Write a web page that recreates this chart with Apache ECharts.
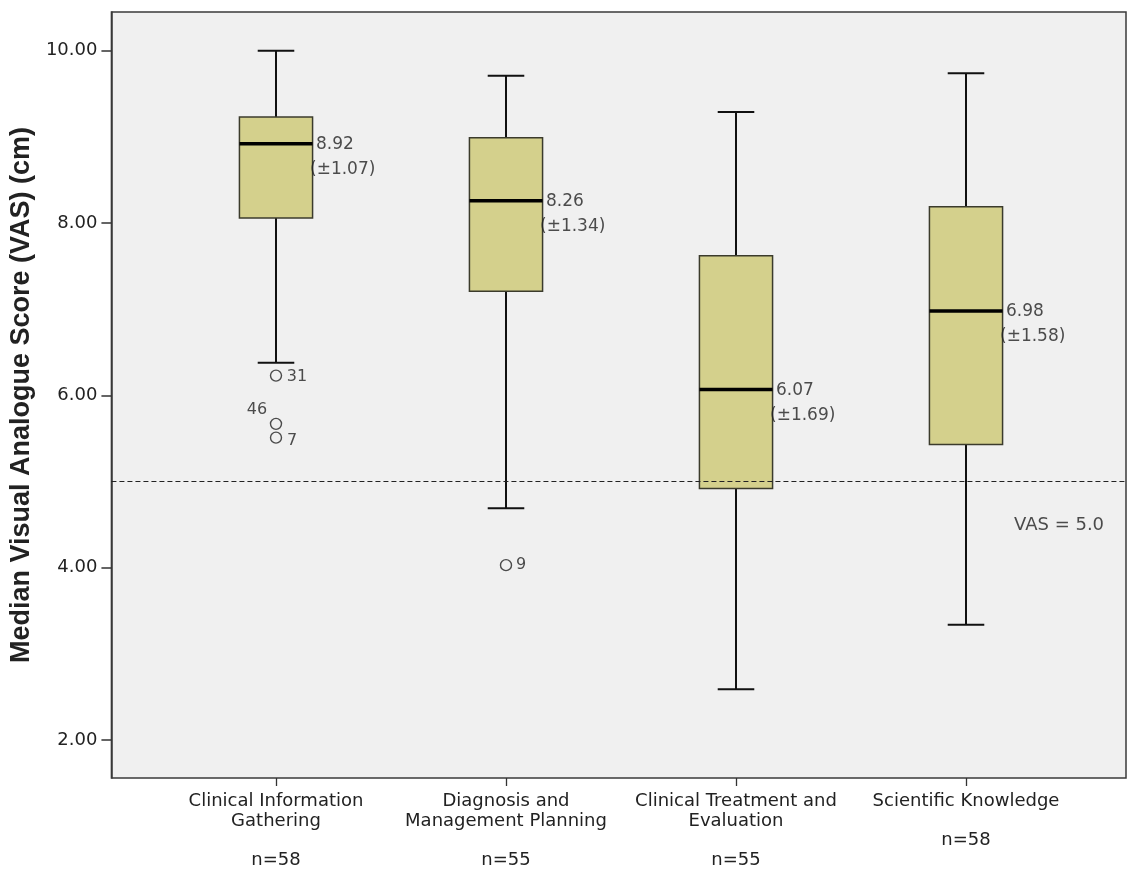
<!DOCTYPE html>
<html>
<head>
<meta charset="utf-8">
<script src="https://cdn.jsdelivr.net/npm/echarts@6/dist/echarts.min.js"></script>
<style>
html,body{margin:0;padding:0;background:#fff;}
#chart{width:1128px;height:873px;}
</style>
</head>
<body>
<div id="chart"></div>
<script>
// ---- data ----
var categories = ['Clinical Information\nGathering', 'Diagnosis and\nManagement Planning', 'Clinical Treatment and\nEvaluation', 'Scientific Knowledge'];
var nValues = [58, 55, 55, 58];
var whiskerLow = [6.38, 4.69, 2.59, 3.34];
var q1Values = [8.06, 7.21, 4.92, 5.43];
var medianValues = [8.92, 8.26, 6.07, 6.98];
var q3Values = [9.23, 8.99, 7.62, 8.19];
var whiskerHigh = [10.0, 9.71, 9.29, 9.74];
var sdValues = [1.07, 1.34, 1.69, 1.58];
var outlierCat = [0, 0, 0, 1];
var outlierVal = [6.23, 5.67, 5.51, 4.03];
var outlierId = ['31', '46', '7', '9'];
var yTicks = [2, 4, 6, 8, 10];
var refValue = 5.0;
var yTitle = 'Median Visual Analogue Score (VAS) (cm)';

// ---- layout / style helpers ----
var outlierLabelOffset = { '31': [21, 1], '46': [-19, -14], '7': [16, 3], '9': [15, 0] };
var yMin = 1.56, yMax = 10.45;
var txt = '#222';
var font = 'DejaVu Sans';

var boxData = categories.map(function (c, i) {
  return [i, whiskerLow[i], q1Values[i], medianValues[i], q3Values[i], whiskerHigh[i]];
});
var outlierData = outlierId.map(function (id, k) {
  return {
    value: [outlierCat[k], outlierVal[k]],
    label: { show: true, formatter: id, position: 'inside', offset: outlierLabelOffset[id],
             color: txt, fontFamily: font, fontSize: 16 }
  };
});
var annData = medianValues.map(function (m, i) {
  return {
    value: [i, m],
    label: { formatter: '{a|' + m.toFixed(2) + '}\n{b|(\u00b1' + sdValues[i].toFixed(2) + ')}' }
  };
});

var chart = echarts.init(document.getElementById('chart'));
var option = {
  backgroundColor: '#fff',
  animation: false,
  grid: [
    { left: 110, top: 12, right: 2, bottom: 95, show: true, backgroundColor: '#f0f0f0',
      borderColor: '#3a3a3a', borderWidth: 1.5, containLabel: false },
    { left: 161, width: 920, top: 12, bottom: 95, containLabel: false }
  ],
  xAxis: [
    { gridIndex: 0, type: 'value', min: 0, max: 1, show: false },
    { gridIndex: 1, type: 'category', data: categories,
      axisLine: { show: false },
      axisTick: { show: true, alignWithLabel: true, length: 8, lineStyle: { color: '#333', width: 1.3 } },
      axisLabel: { interval: 0, margin: 14, color: txt, fontFamily: font, fontSize: 18, lineHeight: 19.5,
        formatter: function (v, i) { return v + '\n\nn=' + nValues[i]; } },
      splitLine: { show: false } }
  ],
  yAxis: [
    { gridIndex: 0, type: 'value', min: yMin, max: yMax,
      name: yTitle, nameLocation: 'middle', nameGap: 72,
      nameTextStyle: { fontFamily: 'Liberation Sans', fontWeight: 'bold', fontSize: 27, color: '#222' },
      axisLine: { show: true, lineStyle: { color: '#3a3a3a', width: 1.5 } },
      axisTick: { show: true, length: 10, customValues: yTicks, lineStyle: { color: '#333', width: 1.5 } },
      axisLabel: { margin: 14, customValues: yTicks, color: txt, fontFamily: font, fontSize: 18,
        formatter: function (v) { return v.toFixed(2); } },
      splitLine: { show: false } },
    { gridIndex: 1, type: 'value', min: yMin, max: yMax, show: false }
  ],
  series: [
    { type: 'line', xAxisIndex: 0, yAxisIndex: 0, data: [], silent: true,
      markLine: { silent: true, symbol: 'none', label: { show: false },
        lineStyle: { type: [5, 3], color: '#222', width: 1 },
        data: [{ yAxis: refValue }] } },
    { type: 'scatter', xAxisIndex: 0, yAxisIndex: 0, symbolSize: 0, silent: true,
      data: [[0.934, 4.496]],
      label: { show: true, position: 'inside', formatter: 'VAS = ' + refValue.toFixed(1),
        color: txt, fontFamily: font, fontSize: 18 } },
    { type: 'custom', xAxisIndex: 1, yAxisIndex: 1, data: boxData,
      encode: { x: 0, y: [1, 2, 3, 4, 5] },
      renderItem: function (params, api) {
        var i = api.value(0);
        var pLow = api.coord([i, api.value(1)]);
        var pQ1 = api.coord([i, api.value(2)]);
        var pMed = api.coord([i, api.value(3)]);
        var pQ3 = api.coord([i, api.value(4)]);
        var pHigh = api.coord([i, api.value(5)]);
        var band = api.size([1, 0])[0];
        var half = band * 0.159;
        var cap = half / 2;
        var cx = pMed[0];
        var ws = { stroke: '#111', lineWidth: 2 };
        return { type: 'group', children: [
          { type: 'line', shape: { x1: cx, y1: pHigh[1], x2: cx, y2: pQ3[1] }, style: ws },
          { type: 'line', shape: { x1: cx, y1: pQ1[1], x2: cx, y2: pLow[1] }, style: ws },
          { type: 'line', shape: { x1: cx - cap, y1: pHigh[1], x2: cx + cap, y2: pHigh[1] }, style: ws },
          { type: 'line', shape: { x1: cx - cap, y1: pLow[1], x2: cx + cap, y2: pLow[1] }, style: ws },
          { type: 'rect', shape: { x: cx - half, y: pQ3[1], width: 2 * half, height: pQ1[1] - pQ3[1] },
            style: { fill: '#d4d08c', stroke: '#3b3b2c', lineWidth: 1.5 } },
          { type: 'line', shape: { x1: cx - half, y1: pMed[1], x2: cx + half, y2: pMed[1] },
            style: { stroke: '#000', lineWidth: 3.5 } }
        ] };
      } },
    { type: 'scatter', xAxisIndex: 1, yAxisIndex: 1, symbol: 'circle', symbolSize: 11,
      itemStyle: { color: 'rgba(0,0,0,0)', borderColor: '#222', borderWidth: 1.4 },
      data: outlierData, silent: true },
    { type: 'scatter', xAxisIndex: 1, yAxisIndex: 1, symbolSize: 0, silent: true,
      data: annData,
      label: { show: true, position: 'inside', align: 'left', verticalAlign: 'middle', offset: [34, 13.5],
        color: txt, fontFamily: font, fontSize: 17, lineHeight: 25,
        rich: { a: { padding: [0, 0, 0, 6], fontFamily: font, fontSize: 17, color: txt, lineHeight: 25 },
                b: { fontFamily: font, fontSize: 17, color: txt, lineHeight: 25 } } } }
  ]
};
chart.setOption(option);
</script>
</body>
</html>
